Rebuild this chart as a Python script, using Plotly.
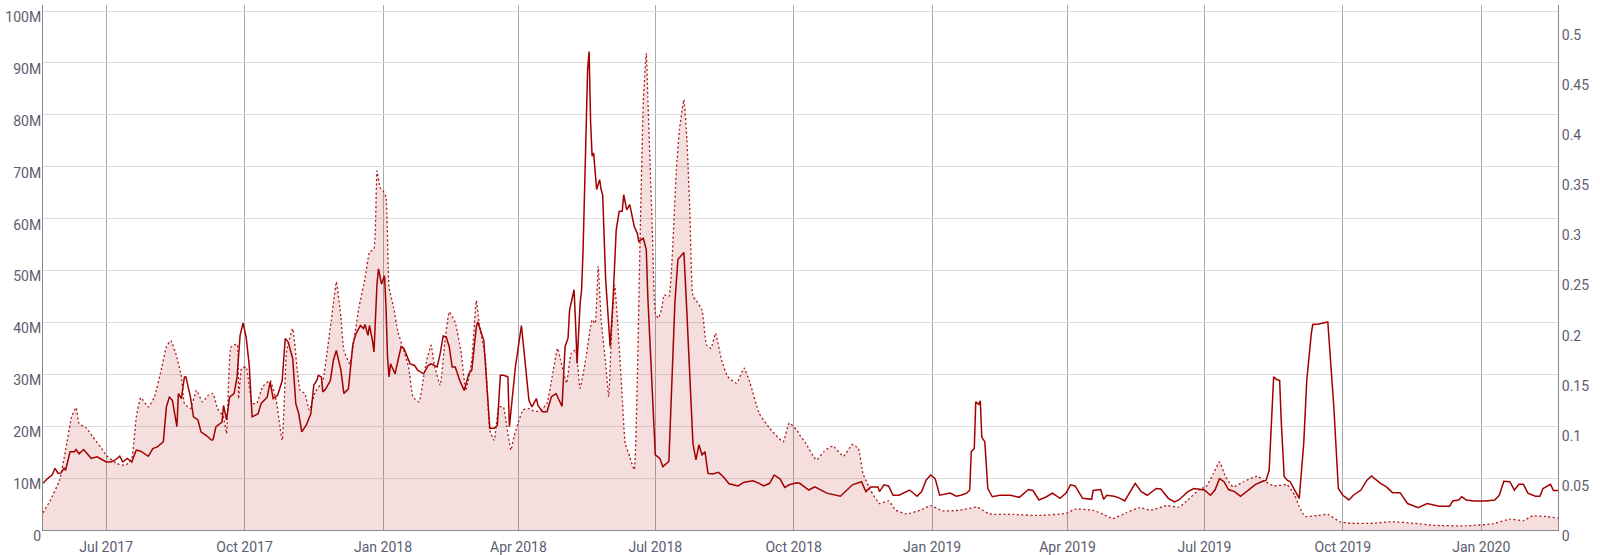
import plotly.graph_objects as go

# Volume series (left axis, millions) - dotted line with fill
vol_dates = [
    "2017-05-20", "2017-05-25", "2017-05-31", "2017-06-04", "2017-06-08", "2017-06-11", "2017-06-13",
    "2017-06-18", "2017-06-22", "2017-06-28", "2017-07-01", "2017-07-08", "2017-07-14", "2017-07-18",
    "2017-07-21", "2017-07-24", "2017-07-29", "2017-08-02", "2017-08-07", "2017-08-10", "2017-08-13",
    "2017-08-17", "2017-08-20", "2017-08-22", "2017-08-26", "2017-08-30", "2017-09-03", "2017-09-07",
    "2017-09-10", "2017-09-13", "2017-09-17", "2017-09-19", "2017-09-20", "2017-09-22", "2017-09-26",
    "2017-09-27", "2017-09-29", "2017-10-02", "2017-10-06", "2017-10-09", "2017-10-13", "2017-10-18",
    "2017-10-22", "2017-10-26", "2017-10-29", "2017-11-02", "2017-11-05", "2017-11-07", "2017-11-10",
    "2017-11-13", "2017-11-17", "2017-11-22", "2017-11-25", "2017-11-29", "2017-12-01", "2017-12-04",
    "2017-12-06", "2017-12-10", "2017-12-13", "2017-12-16", "2017-12-20", "2017-12-23", "2017-12-26",
    "2017-12-28", "2017-12-30", "2018-01-01", "2018-01-03", "2018-01-05", "2018-01-08", "2018-01-11",
    "2018-01-14", "2018-01-18", "2018-01-21", "2018-01-25", "2018-01-28", "2018-01-30", "2018-02-02",
    "2018-02-04", "2018-02-08", "2018-02-11", "2018-02-14", "2018-02-18", "2018-02-22", "2018-02-25",
    "2018-03-01", "2018-03-04", "2018-03-06", "2018-03-10", "2018-03-13", "2018-03-16", "2018-03-19",
    "2018-03-22", "2018-03-24", "2018-03-27", "2018-03-29", "2018-04-01", "2018-04-04", "2018-04-08",
    "2018-04-12", "2018-04-16", "2018-04-20", "2018-04-23", "2018-04-27", "2018-04-29", "2018-05-03",
    "2018-05-06", "2018-05-09", "2018-05-12", "2018-05-16", "2018-05-20", "2018-05-22", "2018-05-24",
    "2018-05-26", "2018-05-29", "2018-05-31", "2018-06-02", "2018-06-04", "2018-06-06", "2018-06-09",
    "2018-06-11", "2018-06-14", "2018-06-17", "2018-06-19", "2018-06-21", "2018-06-23", "2018-06-25",
    "2018-06-26", "2018-06-29", "2018-07-01", "2018-07-03", "2018-07-05", "2018-07-07", "2018-07-10",
    "2018-07-12", "2018-07-15", "2018-07-17", "2018-07-20", "2018-07-22", "2018-07-24", "2018-07-26",
    "2018-07-28", "2018-08-01", "2018-08-04", "2018-08-07", "2018-08-10", "2018-08-14", "2018-08-18",
    "2018-08-24", "2018-08-29", "2018-09-02", "2018-09-08", "2018-09-15", "2018-09-19", "2018-09-24",
    "2018-09-28", "2018-10-03", "2018-10-05", "2018-10-09", "2018-10-16", "2018-10-21", "2018-10-27",
    "2018-11-03", "2018-11-09", "2018-11-13", "2018-11-16", "2018-11-21", "2018-11-27", "2018-12-03",
    "2018-12-08", "2018-12-15", "2018-12-24", "2018-12-31", "2019-01-08", "2019-01-19", "2019-01-31",
    "2019-02-08", "2019-02-24", "2019-03-13", "2019-03-31", "2019-04-06", "2019-04-18", "2019-04-25",
    "2019-05-01", "2019-05-10", "2019-05-19", "2019-05-26", "2019-06-06", "2019-06-14", "2019-06-20",
    "2019-06-28", "2019-07-02", "2019-07-07", "2019-07-11", "2019-07-15", "2019-07-20", "2019-07-27",
    "2019-08-05", "2019-08-09", "2019-08-16", "2019-08-25", "2019-08-30", "2019-09-02", "2019-09-06",
    "2019-09-14", "2019-09-21", "2019-09-29", "2019-10-06", "2019-10-21", "2019-11-03", "2019-11-17",
    "2019-11-30", "2019-12-22", "2020-01-09", "2020-01-20", "2020-01-29", "2020-02-04", "2020-02-13",
    "2020-02-21",
]
vol_values = [
    3.3, 5.8, 9.6, 15.4, 21.8, 23.6, 20.5,
    19.6, 18.0, 15.7, 14.4, 12.8, 12.5, 13.8,
    21.8, 25.5, 23.7, 25.6, 31.4, 35.3, 36.5,
    33.3, 29.5, 24.4, 23.4, 26.9, 24.7, 26.0,
    26.3, 23.4, 21.8, 18.6, 25.6, 35.3, 35.8,
    25.3, 31.1, 31.4, 24.4, 24.4, 27.6, 28.8,
    25.0, 17.3, 34.6, 38.8, 30.8, 26.9, 26.3,
    23.1, 26.6, 28.8, 34.6, 43.6, 47.8, 41.0,
    34.6, 32.0, 37.2, 42.9, 48.4, 53.5, 54.2,
    69.2, 66.0, 65.4, 64.1, 46.8, 42.9, 38.1,
    35.3, 31.4, 25.6, 24.7, 29.5, 32.7, 35.6,
    32.0, 27.9, 35.9, 42.0, 40.0, 34.0, 26.9,
    32.7, 44.2, 39.7, 33.3, 19.2, 17.3, 23.7,
    23.7, 20.5, 15.4, 17.9, 20.8, 23.1, 23.4,
    22.8, 23.1, 24.4, 28.8, 35.0, 32.8, 28.3,
    34.0, 34.7, 27.3, 33.4, 40.5, 39.8, 50.8,
    40.5, 32.1, 25.7, 38.6, 47.2, 39.8, 25.7,
    16.7, 14.1, 11.6, 28.9, 57.8, 82.3, 91.9,
    83.5, 57.8, 41.8, 40.8, 42.4, 45.3, 45.0,
    51.4, 69.4, 77.1, 82.9, 75.2, 61.1, 45.0,
    44.3, 42.4, 35.7, 35.0, 37.9, 32.8, 29.6,
    28.3, 31.2, 28.3, 22.5, 19.6, 18.3, 17.0,
    20.6, 19.3, 18.3, 16.7, 13.5, 15.1, 16.2,
    14.2, 16.5, 15.7, 10.9, 7.7, 5.1, 5.6,
    3.8, 3.1, 3.8, 4.7, 3.7, 3.8, 4.4,
    3.1, 3.0, 2.8, 3.2, 4.0, 3.8, 3.0,
    2.2, 3.3, 4.3, 3.8, 4.7, 4.4, 5.8,
    7.9, 8.3, 10.9, 13.1, 10.3, 8.3, 9.3,
    10.4, 9.6, 8.5, 8.7, 6.7, 4.5, 2.6,
    2.8, 3.0, 1.6, 1.3, 1.3, 1.6, 1.3,
    0.9, 0.8, 1.2, 2.1, 1.8, 2.7, 2.6,
    2.3,
]

# Price series (right axis) - solid line
price_dates = [
    "2017-05-20", "2017-05-23", "2017-05-26", "2017-05-28", "2017-05-30", "2017-06-01", "2017-06-03",
    "2017-06-04", "2017-06-07", "2017-06-10", "2017-06-11", "2017-06-13", "2017-06-16", "2017-06-21",
    "2017-06-25", "2017-07-01", "2017-07-04", "2017-07-07", "2017-07-10", "2017-07-12", "2017-07-15",
    "2017-07-18", "2017-07-21", "2017-07-24", "2017-07-29", "2017-08-01", "2017-08-04", "2017-08-08",
    "2017-08-10", "2017-08-12", "2017-08-14", "2017-08-17", "2017-08-18", "2017-08-20", "2017-08-22",
    "2017-08-23", "2017-08-26", "2017-08-28", "2017-08-31", "2017-09-02", "2017-09-06", "2017-09-09",
    "2017-09-10", "2017-09-12", "2017-09-16", "2017-09-17", "2017-09-19", "2017-09-21", "2017-09-24",
    "2017-09-26", "2017-09-28", "2017-09-30", "2017-10-02", "2017-10-04", "2017-10-06", "2017-10-08",
    "2017-10-10", "2017-10-12", "2017-10-16", "2017-10-18", "2017-10-20", "2017-10-23", "2017-10-26",
    "2017-10-28", "2017-10-30", "2017-11-02", "2017-11-04", "2017-11-06", "2017-11-08", "2017-11-11",
    "2017-11-14", "2017-11-16", "2017-11-18", "2017-11-19", "2017-11-21", "2017-11-22", "2017-11-24",
    "2017-11-27", "2017-11-29", "2017-12-01", "2017-12-04", "2017-12-06", "2017-12-09", "2017-12-12",
    "2017-12-14", "2017-12-17", "2017-12-19", "2017-12-20", "2017-12-22", "2017-12-23", "2017-12-25",
    "2017-12-26", "2017-12-28", "2017-12-29", "2017-12-31", "2018-01-02", "2018-01-03", "2018-01-04",
    "2018-01-05", "2018-01-06", "2018-01-09", "2018-01-11", "2018-01-13", "2018-01-15", "2018-01-19",
    "2018-01-22", "2018-01-24", "2018-01-28", "2018-01-31", "2018-02-02", "2018-02-06", "2018-02-08",
    "2018-02-10", "2018-02-12", "2018-02-14", "2018-02-16", "2018-02-18", "2018-02-21", "2018-02-24",
    "2018-02-27", "2018-03-01", "2018-03-04", "2018-03-05", "2018-03-09", "2018-03-11", "2018-03-13",
    "2018-03-16", "2018-03-18", "2018-03-20", "2018-03-22", "2018-03-25", "2018-03-26", "2018-03-30",
    "2018-04-03", "2018-04-04", "2018-04-08", "2018-04-10", "2018-04-13", "2018-04-14", "2018-04-17",
    "2018-04-20", "2018-04-23", "2018-04-26", "2018-04-30", "2018-05-02", "2018-05-04", "2018-05-05",
    "2018-05-06", "2018-05-08", "2018-05-09", "2018-05-10", "2018-05-12", "2018-05-13", "2018-05-14",
    "2018-05-16", "2018-05-17", "2018-05-18", "2018-05-19", "2018-05-20", "2018-05-21", "2018-05-23",
    "2018-05-25", "2018-05-26", "2018-05-27", "2018-05-29", "2018-06-01", "2018-06-03", "2018-06-05",
    "2018-06-07", "2018-06-09", "2018-06-10", "2018-06-12", "2018-06-14", "2018-06-15", "2018-06-17",
    "2018-06-19", "2018-06-20", "2018-06-23", "2018-06-25", "2018-06-26", "2018-06-29", "2018-07-01",
    "2018-07-04", "2018-07-06", "2018-07-10", "2018-07-12", "2018-07-14", "2018-07-16", "2018-07-20",
    "2018-07-22", "2018-07-24", "2018-07-26", "2018-07-28", "2018-07-30", "2018-08-01", "2018-08-03",
    "2018-08-05", "2018-08-08", "2018-08-12", "2018-08-15", "2018-08-19", "2018-08-25", "2018-08-29",
    "2018-09-04", "2018-09-08", "2018-09-11", "2018-09-15", "2018-09-18", "2018-09-22", "2018-09-25",
    "2018-09-28", "2018-10-03", "2018-10-05", "2018-10-11", "2018-10-15", "2018-10-23", "2018-11-01",
    "2018-11-09", "2018-11-15", "2018-11-18", "2018-11-21", "2018-11-26", "2018-11-27", "2018-11-30",
    "2018-12-03", "2018-12-06", "2018-12-10", "2018-12-17", "2018-12-22", "2018-12-25", "2018-12-28",
    "2018-12-31", "2019-01-03", "2019-01-06", "2019-01-13", "2019-01-17", "2019-01-20", "2019-01-24",
    "2019-01-26", "2019-01-27", "2019-01-29", "2019-01-30", "2019-02-01", "2019-02-02", "2019-02-03",
    "2019-02-05", "2019-02-07", "2019-02-10", "2019-02-15", "2019-02-22", "2019-02-28", "2019-03-06",
    "2019-03-09", "2019-03-13", "2019-03-18", "2019-03-22", "2019-03-27", "2019-03-31", "2019-04-03",
    "2019-04-06", "2019-04-11", "2019-04-17", "2019-04-18", "2019-04-22", "2019-04-23", "2019-04-25",
    "2019-04-27", "2019-05-02", "2019-05-06", "2019-05-09", "2019-05-12", "2019-05-16", "2019-05-20",
    "2019-05-24", "2019-05-30", "2019-06-02", "2019-06-07", "2019-06-11", "2019-06-14", "2019-06-20",
    "2019-06-24", "2019-06-28", "2019-07-01", "2019-07-05", "2019-07-08", "2019-07-11", "2019-07-14",
    "2019-07-17", "2019-07-21", "2019-07-25", "2019-07-29", "2019-08-04", "2019-08-08", "2019-08-11",
    "2019-08-13", "2019-08-15", "2019-08-16", "2019-08-18", "2019-08-20", "2019-08-21", "2019-08-23",
    "2019-08-25", "2019-08-27", "2019-08-30", "2019-09-02", "2019-09-05", "2019-09-07", "2019-09-10",
    "2019-09-11", "2019-09-15", "2019-09-18", "2019-09-21", "2019-09-25", "2019-09-28", "2019-10-01",
    "2019-10-05", "2019-10-08", "2019-10-11", "2019-10-13", "2019-10-17", "2019-10-20", "2019-10-26",
    "2019-10-30", "2019-11-03", "2019-11-08", "2019-11-13", "2019-11-20", "2019-11-26", "2019-11-30",
    "2019-12-04", "2019-12-11", "2019-12-13", "2019-12-17", "2019-12-19", "2019-12-22", "2019-12-27",
    "2020-01-04", "2020-01-10", "2020-01-13", "2020-01-16", "2020-01-20", "2020-01-23", "2020-01-26",
    "2020-01-29", "2020-02-01", "2020-02-06", "2020-02-09", "2020-02-11", "2020-02-16", "2020-02-18",
    "2020-02-21",
]
price_values = [
    0.0466, 0.0513, 0.0549, 0.0616, 0.0565, 0.0570, 0.0616,
    0.0596, 0.0782, 0.0782, 0.0803, 0.0761, 0.0803, 0.0715,
    0.0730, 0.0679, 0.0679, 0.0699, 0.0736, 0.0679, 0.0715,
    0.0679, 0.0798, 0.0787, 0.0736, 0.0813, 0.0829, 0.0881,
    0.1228, 0.1326, 0.1295, 0.1031, 0.1362, 0.1311, 0.1528,
    0.1528, 0.1326, 0.1129, 0.1098, 0.0979, 0.0938, 0.0896,
    0.0901, 0.1031, 0.1077, 0.1243, 0.1098, 0.1326, 0.1362,
    0.1528, 0.1943, 0.2067, 0.1927, 0.1658, 0.1129, 0.1145,
    0.1160, 0.1264, 0.1326, 0.1476, 0.1311, 0.1347, 0.1492,
    0.1911, 0.1875, 0.1709, 0.1264, 0.1160, 0.0979, 0.1046,
    0.1160, 0.1445, 0.1492, 0.1544, 0.1528, 0.1378, 0.1409,
    0.1492, 0.1694, 0.1792, 0.1595, 0.1362, 0.1409, 0.1860,
    0.1958, 0.2041, 0.2010, 0.2051, 0.1943, 0.2041, 0.1891,
    0.1777, 0.2455, 0.2606, 0.2455, 0.2538, 0.2222, 0.1725,
    0.1528, 0.1658, 0.1559, 0.1694, 0.1829, 0.1808, 0.1658,
    0.1642, 0.1595, 0.1559, 0.1642, 0.1658, 0.1627, 0.1761,
    0.1937, 0.1927, 0.1829, 0.1627, 0.1627, 0.1492, 0.1393,
    0.1559, 0.1595, 0.2025, 0.2077, 0.1891, 0.1461, 0.1015,
    0.1015, 0.1046, 0.1544, 0.1544, 0.1528, 0.1031, 0.1627,
    0.2041, 0.1891, 0.1295, 0.1228, 0.1311, 0.1243, 0.1181,
    0.1181, 0.1331, 0.1362, 0.1233, 0.1829, 0.1917, 0.2196,
    0.2264, 0.2398, 0.2062, 0.1663, 0.2264, 0.2398, 0.2797,
    0.3994, 0.4595, 0.4776, 0.4061, 0.3730, 0.3761, 0.3398,
    0.3497, 0.3398, 0.3346, 0.2497, 0.1829, 0.2331, 0.2994,
    0.3181, 0.3181, 0.3346, 0.3196, 0.3248, 0.3181, 0.3030,
    0.2963, 0.2880, 0.2911, 0.2797, 0.2331, 0.1466, 0.0751,
    0.0715, 0.0632, 0.0684, 0.1497, 0.2264, 0.2699, 0.2771,
    0.2165, 0.1497, 0.0865, 0.0699, 0.0850, 0.0751, 0.0782,
    0.0565, 0.0559, 0.0575, 0.0534, 0.0461, 0.0440, 0.0477,
    0.0492, 0.0466, 0.0440, 0.0466, 0.0549, 0.0508, 0.0425,
    0.0451, 0.0471, 0.0466, 0.0399, 0.0430, 0.0368, 0.0337,
    0.0451, 0.0482, 0.0383, 0.0430, 0.0430, 0.0383, 0.0451,
    0.0440, 0.0347, 0.0347, 0.0399, 0.0337, 0.0383, 0.0497,
    0.0549, 0.0513, 0.0347, 0.0368, 0.0337, 0.0347, 0.0368,
    0.0399, 0.0782, 0.0813, 0.1279, 0.1254, 0.1290, 0.0927,
    0.0881, 0.0414, 0.0332, 0.0347, 0.0347, 0.0326, 0.0404,
    0.0394, 0.0300, 0.0332, 0.0368, 0.0316, 0.0368, 0.0451,
    0.0440, 0.0316, 0.0306, 0.0394, 0.0399, 0.0404, 0.0306,
    0.0347, 0.0337, 0.0316, 0.0290, 0.0368, 0.0466, 0.0383,
    0.0347, 0.0414, 0.0409, 0.0316, 0.0280, 0.0300, 0.0383,
    0.0414, 0.0409, 0.0399, 0.0347, 0.0399, 0.0513, 0.0482,
    0.0404, 0.0383, 0.0337, 0.0383, 0.0456, 0.0482, 0.0497,
    0.0596, 0.1160, 0.1528, 0.1502, 0.1492, 0.1098, 0.0534,
    0.0497, 0.0482, 0.0399, 0.0316, 0.0865, 0.1492, 0.1958,
    0.2051, 0.2056, 0.2067, 0.2077, 0.1228, 0.0414, 0.0347,
    0.0300, 0.0347, 0.0383, 0.0399, 0.0497, 0.0539, 0.0466,
    0.0430, 0.0373, 0.0373, 0.0264, 0.0223, 0.0264, 0.0249,
    0.0238, 0.0238, 0.0290, 0.0300, 0.0332, 0.0300, 0.0290,
    0.0290, 0.0300, 0.0347, 0.0487, 0.0482, 0.0399, 0.0456,
    0.0456, 0.0368, 0.0337, 0.0337, 0.0414, 0.0456, 0.0394,
    0.0394,
]

left_tickvals = [0, 10, 20, 30, 40, 50, 60, 70, 80, 90, 100]
left_ticktext = ["0", "10M", "20M", "30M", "40M", "50M", "60M", "70M", "80M", "90M", "100M"]
right_tickvals = [0, 0.05, 0.1, 0.15, 0.2, 0.25, 0.3, 0.35, 0.4, 0.45, 0.5]
right_ticktext = ["0", "0.05", "0.1", "0.15", "0.2", "0.25", "0.3", "0.35", "0.4", "0.45", "0.5"]

RED = "#a30000"
LABEL = "#5c5c70"
FONT = "Roboto, Arial, sans-serif"

fig = go.Figure()
fig.add_trace(go.Scatter(
    x=vol_dates, y=vol_values, mode="lines", yaxis="y",
    line=dict(color="rgba(165,0,0,0.9)", width=1.3, dash="2px,2.5px", shape="spline", smoothing=0.4),
    fill="tozeroy", fillcolor="rgba(175,20,20,0.14)", hoverinfo="skip",
))
fig.add_trace(go.Scatter(
    x=price_dates, y=price_values, mode="lines", yaxis="y2",
    line=dict(color=RED, width=1.5), hoverinfo="skip",
))

fig.update_layout(
    width=1600, height=555,
    margin=dict(l=43, r=42, t=5, b=25, autoexpand=False),
    paper_bgcolor="white", plot_bgcolor="white",
    showlegend=False,
    font=dict(family=FONT, size=14, color=LABEL),
    xaxis=dict(
        type="date", range=["2017-05-20", "2020-02-21"],
        tick0="2017-07-01", dtick="M3", tickformat="%b %Y",
        showgrid=True, gridcolor="#a8a8a8", gridwidth=1,
        showline=True, linecolor="#8a8a8a", linewidth=1,
        ticks="", zeroline=False, automargin=False,
        ticklabelstandoff=4,
        tickfont=dict(family=FONT, size=14, color=LABEL),
    ),
    yaxis=dict(
        range=[0, 101.16], tickvals=left_tickvals, ticktext=left_ticktext,
        showgrid=True, gridcolor="#dddddd", gridwidth=1,
        showline=True, linecolor="#8a8a8a", linewidth=1,
        zeroline=False, ticks="", automargin=False,
        ticklabelstandoff=-2, ticklabelshift=6,
        tickfont=dict(family=FONT, size=14, color=LABEL),
    ),
    yaxis2=dict(
        range=[0, 0.524], tickvals=right_tickvals, ticktext=right_ticktext,
        overlaying="y", side="right",
        showgrid=False, showline=True, linecolor="#8a8a8a", linewidth=1,
        zeroline=False, ticks="", automargin=False,
        ticklabelshift=6,
        tickfont=dict(family=FONT, size=14, color=LABEL),
    ),
)

fig.write_html(
    "out.html",
    config={"displayModeBar": False},
    post_script="document.body.style.margin='0';document.body.style.padding='0';",
)
